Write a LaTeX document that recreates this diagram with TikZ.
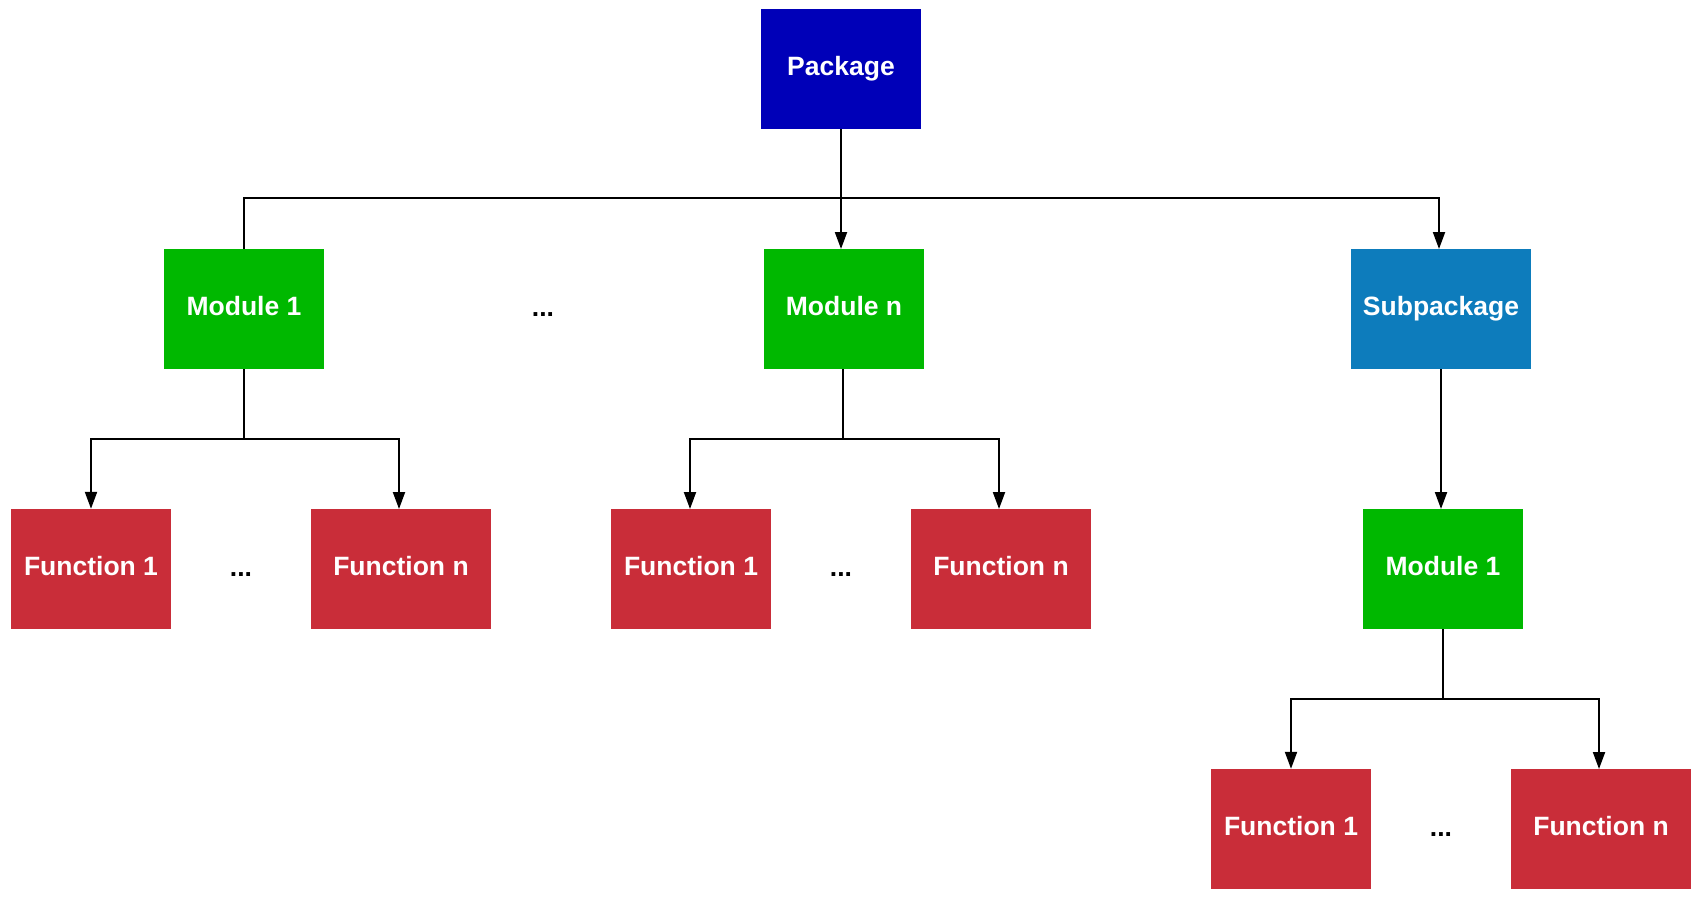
\documentclass[tikz,border=0pt]{standalone}
\usepackage{fontspec}
\setmainfont{Liberation Sans}
\usetikzlibrary{arrows.meta}
\definecolor{pkgblue}{HTML}{0000B8}
\definecolor{modgreen}{HTML}{00B800}
\definecolor{subblue}{HTML}{0D7CBC}
\definecolor{funred}{HTML}{C92D39}
\tikzset{
  box/.style={rectangle, inner sep=0pt, minimum height=120pt, text=white,
    text height=19pt, text depth=5.5pt,
    font=\fontsize{26.5pt}{30pt}\selectfont\bfseries},
  pkgbox/.style={box, fill=pkgblue, minimum width=160pt},
  modbox/.style={box, fill=modgreen, minimum width=160pt},
  subbox/.style={box, fill=subblue, minimum width=180pt},
  fonebox/.style={box, fill=funred, minimum width=160pt},
  fnbox/.style={box, fill=funred, minimum width=180pt},
  dots/.style={font=\fontsize{26.5pt}{30pt}\selectfont\bfseries, inner sep=0pt},
  conn/.style={draw=black, line width=2pt},
  arr/.style={conn, -{Triangle[length=17pt, width=12pt]}}
}
\begin{document}
\begin{tikzpicture}[x=1pt, y=-1pt]
\useasboundingbox (0,0) rectangle (1702,900);
\node[pkgbox] (pkg) at (841,69) {Package};
\node[modbox] (m1) at (244,309) {Module 1};
\node[modbox] (mn) at (844,309) {Module n};
\node[subbox] (sp) at (1441,309) {Subpackage};
\node[fonebox] (f1a) at (91,569) {Function 1};
\node[fnbox] (fna) at (401,569) {Function n};
\node[fonebox] (f1b) at (691,569) {Function 1};
\node[fnbox] (fnb) at (1001,569) {Function n};
\node[modbox] (m1b) at (1443,569) {Module 1};
\node[fonebox] (f1c) at (1291,829) {Function 1};
\node[fnbox] (fnc) at (1601,829) {Function n};
\node[dots] (d0) at (543,315) {...};
\node[dots] (d1) at (241,575) {...};
\node[dots] (d2) at (841,575) {...};
\node[dots] (d3) at (1441,835) {...};
% top level
\coordinate (j0) at (841,198);
\coordinate (tmn) at (841,249);
\coordinate (tsp) at (1439,249);
\draw[arr] (pkg.south) -- (tmn);
\draw[conn] (m1.north) |- (j0);
\draw[arr] (j0) -| (tsp);
% module 1
\coordinate (j1) at (244,439);
\coordinate (ta1) at (399,509);
\draw[conn] (m1.south) -- (j1);
\draw[arr] (j1) -| (f1a.north);
\draw[arr] (j1) -| (ta1);
% module n
\coordinate (bmn) at (843,369);
\coordinate (j2) at (843,439);
\coordinate (tb1) at (690,509);
\coordinate (tb2) at (999,509);
\draw[conn] (bmn) -- (j2);
\draw[arr] (j2) -| (tb1);
\draw[arr] (j2) -| (tb2);
% subpackage
\coordinate (bsp) at (1441,369);
\coordinate (tm1b) at (1441,509);
\draw[arr] (bsp) -- (tm1b);
\coordinate (j3) at (1443,699);
\coordinate (tc2) at (1599,769);
\draw[conn] (m1b.south) -- (j3);
\draw[arr] (j3) -| (f1c.north);
\draw[arr] (j3) -| (tc2);
\end{tikzpicture}
\end{document}
